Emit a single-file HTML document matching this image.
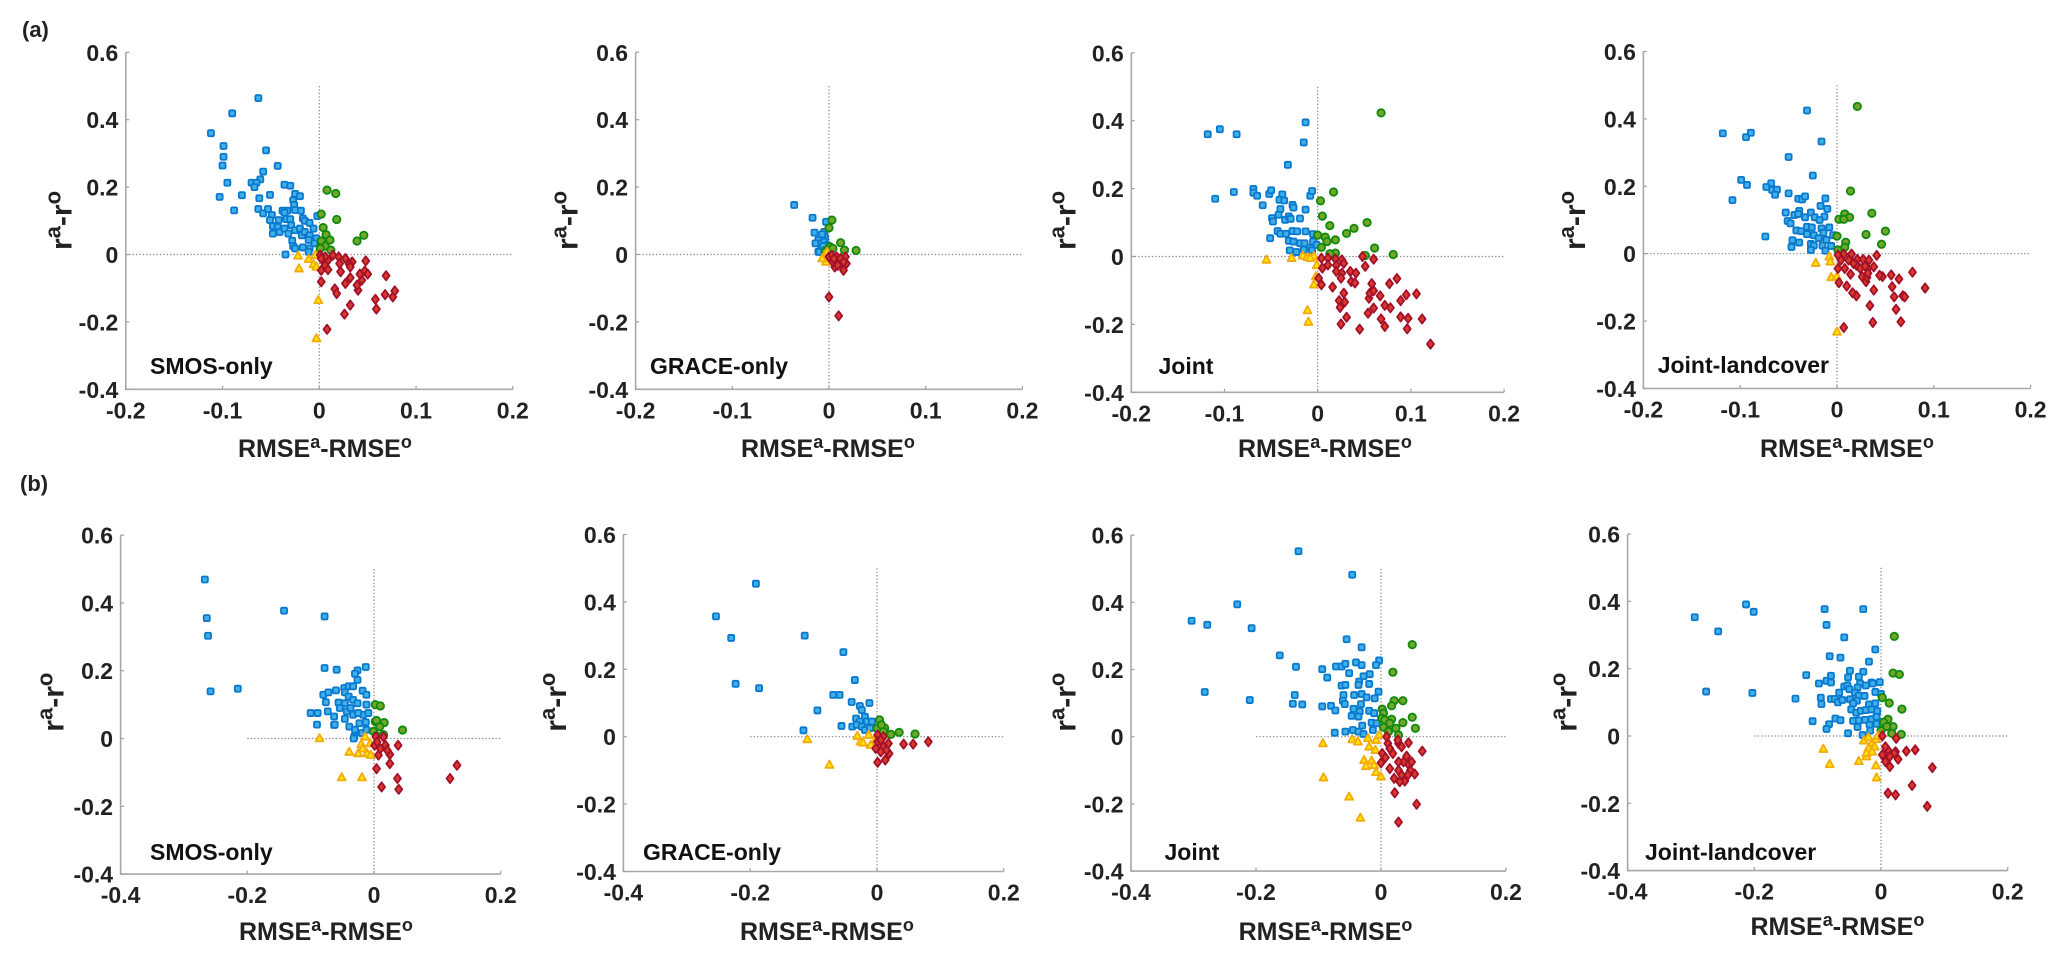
<!DOCTYPE html>
<html lang="en">
<head>
<meta charset="utf-8">
<title>RMSE and correlation difference scatter panels</title>
<style>
html,body{margin:0;padding:0;background:#fff;}
svg{display:block;font-family:"Liberation Sans",Arial,sans-serif;font-weight:bold;fill:#222;}
</style>
</head>
<body>
<svg id="figure" width="2067" height="961" viewBox="0 0 2067 961" xmlns="http://www.w3.org/2000/svg">
  <text x="22" y="37" font-size="22">(a)</text>
  <text x="20" y="491" font-size="22">(b)</text>
</svg>
<script>
const yTickValues = [0.6, 0.4, 0.2, 0, -0.2, -0.4];
const yTickLabels = ["0.6", "0.4", "0.2", "0", "-0.2", "-0.4"];
const xTickValuesA = [-0.2, -0.1, 0, 0.1, 0.2];
const xTickLabelsA = ["-0.2", "-0.1", "0", "0.1", "0.2"];
const xTickValuesB = [-0.4, -0.2, 0, 0.2];
const xTickLabelsB = ["-0.4", "-0.2", "0", "0.2"];
const panelTitles = ["SMOS-only", "GRACE-only", "Joint", "Joint-landcover", "SMOS-only", "GRACE-only", "Joint", "Joint-landcover"];

const a1Blue = [[-.063,.464],[-.090,.419],[-.112,.360],[-.099,.322],[-.099,.290],[-.100,.264],[-.055,.309],[-.043,.263],[-.058,.246],[-.061,.223],[-.070,.213],[-.065,.213],[-.067,.200],[-.095,.213],[-.103,.171],[-.080,.176],[-.051,.177],[-.062,.167],[-.088,.131],[-.036,.207],[-.030,.204],[-.025,.180],[-.020,.173],[-.027,.161],[-.026,.147],[-.025,.132],[-.019,.130],[-.063,.135],[-.058,.122],[-.053,.135],[-.049,.117],[-.051,.102],[-.048,.084],[-.048,.062],[-.042,.102],[-.043,.082],[-.041,.067],[-.038,.130],[-.033,.130],[-.036,.124],[-.034,.105],[-.030,.105],[-.029,.087],[-.036,.077],[-.032,.062],[-.025,.072],[-.028,.041],[-.027,.025],[-.025,.018],[-.020,.077],[-.018,.057],[-.017,.107],[-.015,.100],[-.010,.094],[-.006,.077],[-.015,.067],[-.010,.057],[-.011,.043],[-.003,.048],[-.017,.021],[-.010,.018],[-.011,.008],[-.005,.033],[-.002,.114],[-.035,.000]];
const a1Green = [[.008,.191],[.017,.181],[.002,.120],[.018,.104],[.004,.080],[.007,.059],[.011,.043],[.002,.040],[.046,.057],[.039,.040],[.006,.025],[.012,.013],[.001,.018]];
const a1Yellow = [[-.022,-.004],[-.021,-.042],[-.011,-.014],[-.006,-.029],[-.003,-.037],[-.001,-.136],[-.003,-.249],[-.004,-.002]];
const a1Red = [[.002,-.081],[.008,-.222],[.026,-.177],[.032,-.150],[.016,-.102],[.018,-.116],[.027,-.086],[.032,-.069],[.022,-.051],[.040,-.106],[.039,-.091],[.044,-.076],[.042,-.058],[.047,-.049],[.050,-.058],[.048,-.019],[.069,-.063],[.058,-.133],[.059,-.162],[.068,-.119],[.076,-.126],[.078,-.108],[.034,-.022],[.031,-.029],[.032,-.037],[.027,-.012],[.020,-.007],[.021,-.027],[.014,-.002],[.009,-.017],[.006,-.007],[.001,-.002],[.002,-.012],[.006,-.032],[.002,-.047],[.009,-.045]];

const a2Blue = [[-.036,.147],[-.017,.109],[-.015,.065],[-.011,.043],[-.014,.033],[-.011,.008],[-.003,.097],[-.005,.067],[-.004,.050],[-.008,.033],[-.008,.018],[-.005,.038],[-.010,.008],[-.002,.028],[-.007,.060],[-.006,.025],[-.004,.012]];
const a2Green = [[.003,.102],[.000,.079],[.012,.035],[.016,.013],[.028,.012],[.001,.023],[-.002,.013],[.004,.018],[-.004,.008]];
const a2Yellow = [[-.005,-.007],[-.003,-.022],[-.002,.008],[-.007,-.012]];
const a2Red = [[0,-.126],[.010,-.182],[.015,-.047],[.018,-.027],[.017,-.007],[.006,-.037],[.004,-.022],[.000,-.007],[.008,-.007],[.011,-.027],[.003,-.002],[.005,-.012],[.012,-.012],[.009,-.032],[.015,-.022]];

const a3Blue = [[-.118,.360],[-.110,.170],[-.105,.375],[-.087,.360],[-.013,.395],[-.015,.336],[-.032,.270],[-.090,.190],[-.069,.199],[-.069,.188],[-.065,.179],[-.052,.184],[-.050,.195],[-.038,.183],[-.041,.167],[-.036,.165],[-.059,.151],[-.027,.152],[-.026,.144],[-.040,.140],[-.013,.138],[-.008,.179],[-.006,.193],[-.042,.123],[-.049,.113],[-.048,.103],[-.035,.108],[-.031,.118],[-.029,.111],[-.019,.112],[-.043,.075],[-.040,.067],[-.051,.054],[-.034,.067],[-.027,.075],[-.022,.074],[-.013,.074],[-.005,.066],[-.031,.046],[-.026,.044],[-.019,.039],[-.014,.039],[-.005,.044],[-.030,.018],[-.023,.013],[-.015,.020],[-.008,.025],[-.006,.018],[-.001,.034]];
const a3Green = [[.068,.423],[.017,.190],[.003,.164],[.005,.119],[.013,.091],[.053,.100],[.039,.083],[.031,.068],[0,.063],[.008,.057],[.019,.049],[.010,.044],[.004,.027],[.019,.010],[.013,.008],[.051,.003],[.061,.025],[.081,.006]];
const a3Yellow = [[-.055,-.010],[-.028,-.005],[-.016,.002],[-.011,-.002],[-.004,0],[-.001,-.026],[-.002,-.059],[-.004,-.083],[-.011,-.159],[-.010,-.193],[-.008,-.005]];
const a3Red = [[.048,0],[.060,-.008],[.051,-.029],[.004,-.005],[.011,-.005],[.019,-.007],[.026,-.010],[.005,-.034],[.011,-.025],[.020,-.026],[.028,-.020],[.020,-.044],[.026,-.049],[.025,-.064],[.035,-.044],[.041,-.049],[.036,-.074],[.040,-.078],[.001,-.064],[.004,-.083],[.016,-.090],[.028,-.108],[.023,-.130],[.029,-.134],[.024,-.150],[.031,-.179],[.025,-.199],[.045,-.214],[.054,-.167],[.060,-.152],[.055,-.123],[.056,-.108],[.060,-.101],[.058,-.080],[.067,-.116],[.077,-.080],[.085,-.065],[.072,-.144],[.078,-.151],[.068,-.184],[.072,-.206],[.089,-.178],[.097,-.182],[.096,-.213],[.112,-.184],[.089,-.130],[.095,-.113],[.106,-.110],[.121,-.258]];

const a4Blue = [[-.031,.425],[-.118,.357],[-.094,.346],[-.089,.359],[-.016,.333],[-.050,.287],[-.025,.232],[-.099,.219],[-.093,.204],[-.108,.159],[-.068,.209],[-.073,.198],[-.067,.189],[-.062,.190],[-.064,.175],[-.050,.179],[-.040,.163],[-.036,.161],[-.033,.170],[-.012,.164],[-.017,.142],[-.010,.133],[-.053,.122],[-.044,.115],[-.039,.127],[-.040,.118],[-.051,.097],[-.048,.090],[-.033,.108],[-.027,.122],[-.023,.108],[-.013,.110],[-.018,.100],[-.042,.069],[-.037,.067],[-.031,.080],[-.026,.078],[-.031,.058],[-.024,.055],[-.016,.075],[-.014,.062],[-.008,.078],[-.074,.051],[-.046,.040],[-.039,.033],[-.047,.020],[-.019,.046],[-.011,.041],[-.027,.029],[-.024,.024],[-.027,.011],[-.015,.024],[-.012,.009],[-.006,.023],[-.004,.055]];
const a4Green = [[.021,.437],[.014,.186],[.036,.120],[.050,.067],[.030,.057],[.046,.028],[.008,.118],[.013,.108],[.002,.102],[.007,.102],[0,.052],[.009,.034],[.008,.019],[.001,.011]];
const a4Yellow = [[-.022,-.028],[-.008,-.009],[-.007,-.024],[-.006,-.070],[0,-.068],[0,-.232]];
const a4Red = [[.007,-.219],[.037,-.204],[.066,-.202],[.034,-.154],[.061,-.165],[.020,-.125],[.016,-.116],[.002,-.086],[.010,-.096],[.038,-.108],[.057,-.098],[.059,-.128],[.068,-.125],[.070,-.128],[.091,-.102],[.078,-.055],[.064,-.075],[.056,-.063],[.047,-.068],[.044,-.064],[.041,-.005],[.030,-.083],[.026,-.068],[.031,-.070],[.014,-.061],[.001,-.044],[.008,-.044],[.015,-.001],[.007,-.001],[.001,-.004],[.004,-.019],[.012,-.019],[.021,-.017],[.027,-.017],[.033,-.019],[.020,-.034],[.024,-.044],[.032,-.044],[.038,-.039],[.029,-.037],[.017,-.029],[.032,-.058]];

const b1Blue = [[-.267,.469],[-.264,.355],[-.262,.303],[-.258,.139],[-.215,.147],[-.142,.377],[-.078,.360],[-.078,.208],[-.059,.203],[-.013,.211],[-.026,.201],[-.030,.191],[-.026,.173],[-.080,.129],[-.072,.136],[-.060,.142],[-.047,.149],[-.040,.154],[-.033,.154],[-.046,.136],[-.040,.124],[-.018,.141],[-.012,.129],[-.076,.107],[-.056,.106],[-.046,.104],[-.033,.114],[-.026,.104],[-.012,.100],[-.100,.075],[-.089,.075],[-.073,.080],[-.090,.041],[-.063,.065],[-.063,.040],[-.054,.090],[-.043,.080],[-.033,.070],[-.046,.058],[-.017,.070],[-.023,.045],[-.013,.048],[-.039,.035],[-.030,.026],[-.019,.016],[-.031,.006],[-.037,.090],[-.025,.075],[-.009,.075],[-.012,.026],[-.062,.041],[-.032,0]];
const b1Green = [[.002,.100],[.010,.096],[.002,.050],[.004,.053],[.016,.047],[.009,.035],[.045,.025],[-.001,.021],[.015,.011],[.004,.008]];
const b1Yellow = [[-.086,0],[-.039,-.040],[-.051,-.115],[-.019,-.115],[-.025,-.044],[-.020,-.017],[-.011,-.044],[-.005,-.049],[-.014,.005],[-.018,-.030],[-.006,-.015]];
const b1Red = [[.004,-.089],[.038,-.020],[.025,-.074],[.025,-.047],[.007,-.049],[.018,-.020],[.003,.005],[.015,.005],[.001,-.020],[.010,-.030],[.037,-.118],[.012,-.143],[.039,-.150],[.120,-.118],[.131,-.079],[.005,-.010],[.021,-.035]];

const b2Blue = [[-.191,.454],[-.254,.357],[-.230,.293],[-.114,.300],[-.223,.157],[-.186,.144],[-.094,.078],[-.116,.019],[-.053,.251],[-.035,.168],[-.069,.124],[-.059,.124],[-.040,.103],[-.012,.100],[-.027,.091],[-.024,.079],[-.019,.059],[-.033,.054],[-.027,.045],[-.016,.045],[-.008,.045],[-.056,.032],[-.039,.030],[-.032,.035],[-.024,.030],[-.019,.020],[-.011,.025]];
const b2Green = [[.004,.050],[0,.025],[.012,.026],[.007,.035],[.022,.007],[.035,.013],[.060,.008],[.010,.015]];
const b2Yellow = [[-.110,-.008],[-.075,-.084],[-.031,.002],[-.026,-.015],[-.013,.005],[-.010,-.025],[-.022,-.018],[-.002,-.010]];
const b2Red = [[.001,-.076],[.013,-.069],[.019,-.050],[.018,-.020],[.042,-.022],[.057,-.022],[.081,-.015],[.001,.005],[.010,0],[.001,-.015],[.010,-.030],[.006,-.045],[-.002,-.035],[.015,-.040],[.006,-.010]];

const b3Blue = [[-.303,.345],[-.278,.333],[-.282,.133],[-.132,.552],[-.046,.482],[-.230,.394],[-.207,.323],[-.162,.242],[-.136,.208],[-.055,.290],[-.031,.266],[-.210,.109],[-.138,.124],[-.141,.098],[-.126,.096],[-.094,.201],[-.086,.176],[-.072,.209],[-.063,.209],[-.057,.217],[-.051,.189],[-.040,.221],[-.031,.213],[-.003,.227],[-.008,.213],[-.018,.186],[-.028,.180],[-.019,.157],[-.035,.164],[-.036,.154],[-.063,.152],[-.057,.154],[-.004,.134],[-.060,.124],[-.043,.124],[-.031,.127],[-.023,.117],[-.061,.107],[-.058,.097],[-.032,.097],[-.010,.114],[-.094,.090],[-.080,.092],[-.073,.078],[-.044,.083],[-.034,.075],[-.019,.077],[-.047,.062],[-.036,.060],[-.011,.070],[-.030,.033],[-.015,.042],[-.007,.040],[-.074,.012],[-.057,.015],[-.045,.020],[-.036,.015],[-.028,.008],[-.013,.020]];
const b3Green = [[.050,.274],[.019,.192],[.035,.107],[.021,.107],[.017,.092],[.050,.058],[.035,.042],[.055,.025],[.002,.082],[.004,.070],[.001,.055],[.006,.050],[.017,.052],[.014,.040],[.024,.025],[.004,.028],[.012,.015],[.028,.005]];
const b3Yellow = [[-.093,-.020],[-.092,-.122],[-.051,-.179],[-.033,-.242],[-.046,-.008],[-.037,-.015],[-.021,-.005],[-.019,-.030],[-.008,-.010],[-.009,-.040],[-.027,-.070],[-.015,-.072],[-.024,-.088],[-.011,-.085],[-.008,-.106],[0,-.119],[-.003,.005]];
const b3Red = [[.066,-.043],[.044,-.018],[.057,-.201],[.028,-.254],[.022,-.167],[.054,-.111],[.038,-.132],[.030,-.134],[.021,-.124],[.014,-.095],[.028,-.100],[.047,-.100],[.043,-.080],[.049,-.075],[.041,-.058],[.036,-.075],[.028,-.075],[.033,-.114],[.043,-.114],[.002,-.050],[.007,-.062],[0,-.078],[.019,-.050],[.011,-.020],[.028,-.020],[.009,0],[.027,-.010],[.033,-.030],[.014,-.035]];

const b4Blue = [[-.294,.353],[-.257,.311],[-.213,.391],[-.201,.369],[-.276,.132],[-.203,.128],[-.089,.377],[-.028,.377],[-.086,.330],[-.058,.293],[-.009,.257],[-.081,.237],[-.064,.233],[-.019,.221],[-.118,.181],[-.098,.156],[-.086,.164],[-.079,.179],[-.079,.159],[-.049,.194],[-.028,.191],[-.052,.174],[-.035,.176],[-.033,.156],[-.015,.159],[-.013,.156],[-.002,.160],[-.024,.150],[-.037,.144],[-.058,.147],[-.053,.150],[-.066,.129],[-.050,.139],[-.041,.129],[-.035,.120],[-.026,.119],[-.009,.131],[0,.125],[-.135,.111],[-.095,.114],[-.094,.095],[-.079,.110],[-.073,.110],[-.068,.100],[-.061,.107],[-.049,.109],[-.038,.105],[-.044,.097],[-.019,.094],[-.009,.097],[-.047,.079],[-.039,.069],[-.032,.075],[-.024,.077],[-.015,.079],[-.006,.074],[-.108,.044],[-.072,.052],[-.064,.047],[-.082,.035],[-.086,.021],[-.044,.045],[-.035,.046],[-.025,.048],[-.015,.050],[-.007,.057],[-.037,.027],[-.018,.033],[-.007,.036],[-.052,.008],[-.029,.003],[-.017,.016]];
const b4Green = [[.021,.296],[.019,.187],[.029,.183],[.002,.114],[.013,.098],[.033,.080],[.011,.050],[.004,.041],[.019,.028],[.009,.028],[.032,.005],[0,.016],[.017,.008]];
const b4Yellow = [[-.091,-.039],[-.081,-.084],[-.035,-.075],[-.023,-.061],[-.008,-.088],[-.007,-.124],[-.027,-.014],[-.020,-.004],[-.014,-.020],[-.020,-.037],[-.008,-.010],[-.023,-.051],[-.010,-.032],[-.005,0],[-.014,-.047]];
const b4Red = [[.081,-.094],[.049,-.147],[.011,-.170],[.023,-.175],[.073,-.209],[.054,-.041],[.040,-.045],[.023,-.047],[.014,-.091],[.027,-.069],[.007,-.076],[.002,-.056],[.002,0],[.024,-.007],[.011,-.042],[.021,-.051],[.007,-.032],[.014,-.061]];

/* Layout only: pixel placement of each panel's axes and captions. */
const layout = [
  {x0:319.3, ux:967.5, y0:254.5, uy:337,   row:"a", titleX:150,   titleY:374, xLabelX:238,   xLabelY:457, yLabelX:71.7,  yLabelY:250},
  {x0:829,   ux:967,   y0:254.5, uy:337,   row:"a", titleX:650,   titleY:374, xLabelX:741,   xLabelY:457, yLabelX:577.3, yLabelY:250},
  {x0:1317.7,ux:932,   y0:256.5, uy:339.5, row:"a", titleX:1158.5,titleY:374, xLabelX:1238,  xLabelY:457, yLabelX:1075.7,yLabelY:250},
  {x0:1837,  ux:968,   y0:253.7, uy:337,   row:"a", titleX:1657.7,titleY:373, xLabelX:1760,  xLabelY:457, yLabelX:1585,  yLabelY:250},
  {x0:374,   ux:633.5, y0:738.5, uy:339,   row:"b", titleX:150,   titleY:860, xLabelX:239,   xLabelY:940, yLabelX:63.3,  yLabelY:731.7},
  {x0:877,   ux:634,   y0:736.7, uy:337,   row:"b", titleX:643,   titleY:860, xLabelX:740,   xLabelY:940, yLabelX:566,   yLabelY:731.7},
  {x0:1381,  ux:625,   y0:736.7, uy:336,   row:"b", titleX:1164.5,titleY:860, xLabelX:1238.6,xLabelY:940, yLabelX:1075.7,yLabelY:731.7},
  {x0:1881,  ux:633.5, y0:736,   uy:336.5, row:"b", titleX:1645,  titleY:860, xLabelX:1750.5,xLabelY:935, yLabelX:1576.7,yLabelY:731.7}
];

const blueSeries = [a1Blue, a2Blue, a3Blue, a4Blue, b1Blue, b2Blue, b3Blue, b4Blue];
const greenSeries = [a1Green, a2Green, a3Green, a4Green, b1Green, b2Green, b3Green, b4Green];
const yellowSeries = [a1Yellow, a2Yellow, a3Yellow, a4Yellow, b1Yellow, b2Yellow, b3Yellow, b4Yellow];
const redSeries = [a1Red, a2Red, a3Red, a4Red, b1Red, b2Red, b3Red, b4Red];

const NS = "http://www.w3.org/2000/svg";
const figure = document.getElementById("figure");

function make(tag, attrs, parent) {
  const el = document.createElementNS(NS, tag);
  for (const k in attrs) el.setAttribute(k, attrs[k]);
  parent.appendChild(el);
  return el;
}

function drawSquare(g, px, py) {
  const el = make("rect", {x: px - 3, y: py - 3, width: 6, height: 6, rx: 1.2, fill: "#3fb0ea", stroke: "#0a78cc", "stroke-width": 1.8}, g);
  
  
}
function drawCircle(g, px, py) {
  const el = make("circle", {cx: px, cy: py, r: 3.7, fill: "#74a62c", stroke: "#0f8a0c", "stroke-width": 1.8}, g);
  
  
}
function drawTriangle(g, px, py) {
  const pts = [[px, py - 4.4], [px + 4, py + 2.9], [px - 4, py + 2.9]].map(p => p.join(",")).join(" ");
  const el = make("polygon", {points: pts, fill: "#ffe600", stroke: "#f4aa0e", "stroke-width": 1.8, "stroke-linejoin": "round"}, g);
  
  
}
function drawDiamond(g, px, py) {
  const pts = [[px, py - 4.6], [px + 3.5, py], [px, py + 4.6], [px - 3.5, py]].map(p => p.join(",")).join(" ");
  const el = make("polygon", {points: pts, fill: "#d8392b", stroke: "#a2102a", "stroke-width": 1.8, "stroke-linejoin": "round"}, g);
  
  
}

function drawPanel(i) {
  const p = layout[i];
  const scaleX = v => p.x0 + v * p.ux;
  const scaleY = v => p.y0 - v * p.uy;
  const xVals = p.row === "a" ? xTickValuesA : xTickValuesB;
  const xLabs = p.row === "a" ? xTickLabelsA : xTickLabelsB;
  const xMin = xVals[0], xMax = xVals[xVals.length - 1];
  const left = scaleX(xMin), bottom = scaleY(-0.4), top = scaleY(0.6);

  const g = make("g", {}, figure);
  
  

  const axis = make("path", {d: "M" + left + " " + top + "V" + bottom + "H" + scaleX(xMax), fill: "none", stroke: "#a8a8a8", "stroke-width": 1.6}, g);
  
  

  const hz = make("line", {x1: scaleX(-0.2), x2: scaleX(0.2), y1: scaleY(0), y2: scaleY(0), stroke: "#8a8a8a", "stroke-width": 1.2, "stroke-dasharray": "1.4 2"}, g);
  
  
  const vt = make("line", {x1: scaleX(0), x2: scaleX(0), y1: scaleY(0.5), y2: bottom, stroke: "#8a8a8a", "stroke-width": 1.2, "stroke-dasharray": "1.4 2"}, g);
  
  

  yTickValues.forEach((v, k) => {
    const t = make("line", {x1: left, x2: left + 3.5, y1: scaleY(v), y2: scaleY(v), stroke: "#a0a0a0", "stroke-width": 1.2}, g);
    
    
    const l = make("text", {x: left - 7.5, y: scaleY(v) + 8.5, "font-size": 23, "text-anchor": "end"}, g);
    
    
    l.textContent = yTickLabels[k];
  });
  xVals.forEach((v, k) => {
    const t = make("line", {x1: scaleX(v), x2: scaleX(v), y1: bottom, y2: bottom - 3.5, stroke: "#a0a0a0", "stroke-width": 1.2}, g);
    
    
    const l = make("text", {x: scaleX(v), y: bottom + 29, "font-size": 23, "text-anchor": "middle"}, g);
    
    
    l.textContent = xLabs[k];
  });

  const xTitle = make("text", {x: p.xLabelX, y: p.xLabelY, "font-size": 25}, g);
  
  
  xTitle.innerHTML = 'RMSE<tspan dy="-9" font-size="18">a</tspan><tspan dy="9">-RMSE</tspan><tspan dy="-9" font-size="18">o</tspan>';

  const yTitle = make("text", {x: p.yLabelX, y: p.yLabelY, "font-size": 30, transform: "rotate(-90 " + p.yLabelX + " " + p.yLabelY + ")"}, g);
  
  
  yTitle.innerHTML = 'r<tspan dy="-11" font-size="22">a</tspan><tspan dy="11">-r</tspan><tspan dy="-11" font-size="22">o</tspan>';

  const title = make("text", {x: p.titleX, y: p.titleY, "font-size": 23, fill: "#111"}, g);
  
  
  title.textContent = panelTitles[i];

  blueSeries[i].forEach(d => drawSquare(g, scaleX(d[0]), scaleY(d[1])));
  greenSeries[i].forEach(d => drawCircle(g, scaleX(d[0]), scaleY(d[1])));
  yellowSeries[i].forEach(d => drawTriangle(g, scaleX(d[0]), scaleY(d[1])));
  redSeries[i].forEach(d => drawDiamond(g, scaleX(d[0]), scaleY(d[1])));
}

for (let i = 0; i < layout.length; i++) drawPanel(i);
</script>
</body>
</html>
